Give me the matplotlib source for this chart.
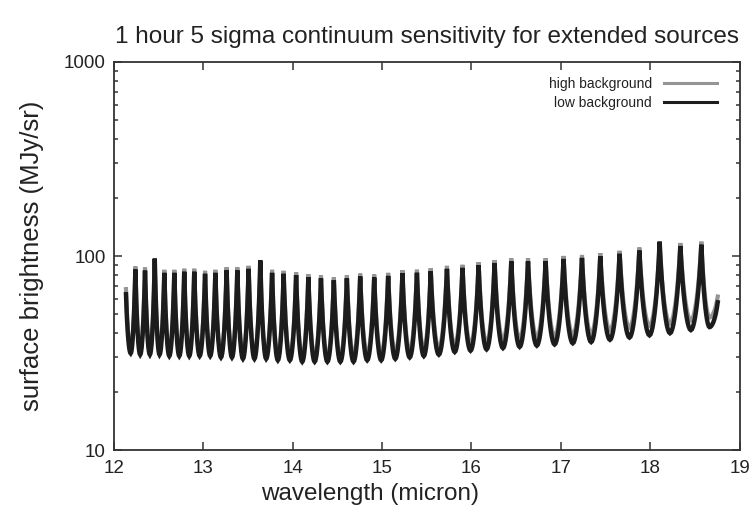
import numpy as np
import matplotlib.pyplot as plt
from matplotlib.ticker import FixedLocator, NullFormatter, LogLocator

plt.rcParams['font.family'] = ['Liberation Sans', 'DejaVu Sans']

# wavelengths (micron) of the order edges, where the curves peak.
# first and last entries are the two ends of the curve
edges = [12.134, 12.239, 12.347, 12.456, 12.563, 12.675, 12.786, 12.898, 13.019, 13.134,
         13.260, 13.380, 13.506, 13.637, 13.769, 13.898, 14.038, 14.175, 14.316, 14.460,
         14.606, 14.755, 14.912, 15.068, 15.228, 15.390, 15.544, 15.726, 15.900, 16.080,
         16.259, 16.446, 16.633, 16.830, 17.031, 17.237, 17.442, 17.658, 17.879, 18.106,
         18.338, 18.573, 18.756]

# surface brightness at the edges (MJy/sr)
high_peaks = [67.5, 88.3, 87.2, 87.0, 84.9, 84.9, 86.0, 86.0, 83.9, 84.9,
              87.5, 87.5, 89.0, 88.0, 84.9, 83.9, 82.6, 80.6, 79.6, 77.7,
              79.6, 81.2, 80.3, 81.9, 84.5, 85.0, 86.5, 89.0, 90.1, 93.0,
              95.3, 97.4, 97.4, 97.4, 100.1, 101.3, 103.4, 106.4, 110.6, 113.0,
              116.7, 118.6, 61.8]
low_peaks = [63.5, 85.2, 84.1, 97.0, 81.9, 81.9, 83.0, 83.0, 81.0, 81.9,
             84.4, 84.4, 85.9, 95.0, 81.9, 81.0, 79.7, 77.8, 76.8, 75.0,
             76.8, 78.4, 77.5, 79.0, 81.5, 82.0, 83.5, 85.9, 86.9, 89.7,
             92.0, 94.0, 94.0, 94.0, 96.6, 97.8, 99.8, 102.7, 106.7, 118.6,
             112.6, 114.4, 57.7]

# minimum inside each order (MJy/sr)
high_mins = [33.1, 32.6, 32.6, 32.6, 32.0, 32.0, 32.0, 32.0, 32.0, 31.5,
             31.8, 31.3, 31.3, 31.3, 30.7, 30.7, 30.2, 30.2, 30.2, 30.2,
             30.8, 31.3, 31.3, 31.9, 32.4, 32.9, 33.5, 34.6, 35.1, 35.6,
             36.9, 37.4, 38.0, 38.5, 39.1, 39.6, 41.4, 42.6, 43.7, 44.8,
             46.5, 48.2]
low_mins = [31.5, 31.0, 31.0, 31.0, 30.5, 30.5, 30.5, 30.5, 30.5, 30.0,
            30.0, 29.5, 29.5, 29.5, 29.0, 29.0, 28.5, 28.5, 28.5, 28.5,
            28.5, 29.0, 29.0, 29.5, 30.0, 30.5, 31.0, 32.0, 32.5, 33.0,
            33.5, 34.0, 34.5, 35.0, 35.5, 36.0, 37.0, 38.0, 39.0, 40.0,
            41.5, 43.0]

# shape of half an order, edge -> centre, as fraction of the log step min -> peak
half_pos = [0, 0.05, 0.10, 0.15, 0.20, 0.25, 0.30, 0.35, 0.40, 0.45, 0.50]
half_shape = [1.0, 0.78, 0.60, 0.45, 0.33, 0.23, 0.15, 0.085, 0.04, 0.01, 0.0]


def build_curve(peaks, mins):
    pos = np.array(half_pos)
    shp = np.array(half_shape)
    xs, ys = [], []
    for i in range(len(mins)):
        a, b = edges[i], edges[i + 1]
        lo = np.log10(mins[i])
        left = lo + shp * (np.log10(peaks[i]) - lo)
        right = lo + shp[::-1] * (np.log10(peaks[i + 1]) - lo)
        x = np.concatenate([a + pos * (b - a), (b - pos[::-1] * (b - a))[1:]])
        y = np.concatenate([left, right[1:]])
        if i > 0:
            x, y = x[1:], y[1:]
        xs.append(x)
        ys.append(y)
    return np.concatenate(xs), 10 ** np.concatenate(ys)


fig = plt.figure(figsize=(7.56, 5.09), dpi=100)
ax = fig.add_axes([0.1508, 0.1159, 0.8274, 0.7623])

x_hi, y_hi = build_curve(high_peaks, high_mins)
x_lo, y_lo = build_curve(low_peaks, low_mins)
ax.plot(x_hi, y_hi, color='#959595', lw=3.0, solid_joinstyle='miter', label='high background')
ax.plot(x_lo, y_lo, color='#1c1c1c', lw=3.2, solid_joinstyle='miter', label='low background')

ax.set_yscale('log')
ax.set_xlim(12, 19)
ax.set_ylim(10, 1000)
ax.xaxis.set_major_locator(FixedLocator([12, 13, 14, 15, 16, 17, 18, 19]))
ax.yaxis.set_major_locator(FixedLocator([10, 100, 1000]))
ax.set_yticklabels(['10', '100', '1000'])
ax.yaxis.set_minor_locator(LogLocator(base=10, subs=np.arange(2, 10)))
ax.yaxis.set_minor_formatter(NullFormatter())

ax.tick_params(which='both', direction='in', top=True, right=True,
               colors='#333333', labelcolor='#222222', labelsize=13.5, width=1.1)
ax.tick_params(which='major', length=6)
ax.tick_params(which='minor', length=3)
ax.tick_params(axis='x', pad=7)
ax.tick_params(axis='y', pad=6)
for s in ax.spines.values():
    s.set_color('#333333')
    s.set_linewidth(1.3)

ax.set_xlabel('wavelength (micron)', fontsize=17.5, color='#222222')
ax.xaxis.set_label_coords(0.41, -0.085)
ax.set_ylabel('surface brightness (MJy/sr)', fontsize=18.5, color='#222222', labelpad=14)
ax.set_title('1 hour 5 sigma continuum sensitivity for extended sources',
             fontsize=17.5, color='#222222', pad=14)

leg = ax.legend(loc='upper right', bbox_to_anchor=(0.973, 0.975), borderaxespad=0,
                frameon=False, markerfirst=False, fontsize=10,
                handlelength=3.8, labelspacing=0.35, handletextpad=0.9)
for t in leg.get_texts():
    t.set_color('#222222')
for h in leg.get_lines():
    h.set_linewidth(2.2)

fig.savefig('out.png', dpi=100)
